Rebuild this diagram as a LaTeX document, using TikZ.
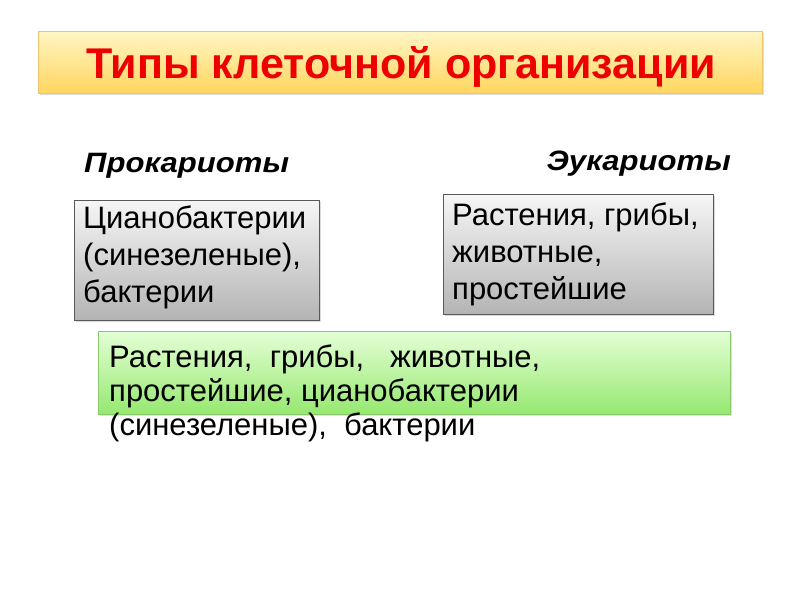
\documentclass[tikz,border=0pt]{standalone}
\usepackage{fontspec}
\setmainfont{Liberation Sans}
\newfontfamily\headfont{Liberation Sans}[FakeStretch=1.11]
\usetikzlibrary{shadows}
\definecolor{titletop}{RGB}{255,246,196}
\definecolor{titlebot}{RGB}{255,214,96}
\definecolor{titleborder}{RGB}{240,196,110}
\definecolor{graytop}{RGB}{246,246,246}
\definecolor{graybot}{RGB}{180,180,180}
\definecolor{greentop}{RGB}{228,255,214}
\definecolor{greenbot}{RGB}{150,232,112}
\definecolor{greenborder}{RGB}{140,200,110}
\definecolor{titlered}{RGB}{238,0,0}
\begin{document}
\begin{tikzpicture}[x=1pt,y=-1pt,
  titlebox/.style={draw=titleborder,line width=0.8pt,top color=titletop,bottom color=titlebot,
     drop shadow={shadow xshift=1.5pt,shadow yshift=-2pt,opacity=0.25}},
  graybox/.style={draw=black!65,line width=1pt,top color=graytop,bottom color=graybot,
     drop shadow={shadow xshift=2pt,shadow yshift=-2pt,opacity=0.3}},
  greenbox/.style={draw=greenborder,line width=0.8pt,top color=greentop,bottom color=greenbot,
     drop shadow={shadow xshift=1.5pt,shadow yshift=-2pt,opacity=0.25}},
  bodytext/.style={font=\fontsize{31}{37}\selectfont,align=left,anchor=base west,inner sep=0pt},
  headtext/.style={font=\headfont\fontsize{28}{32}\selectfont\bfseries\itshape,inner sep=0pt}
]
\useasboundingbox (0,0) rectangle (800,600);
% title
\path[titlebox] (38,31) rectangle (762,93);
\node[font=\fontsize{43}{48}\selectfont\bfseries,text=titlered,inner sep=0pt,anchor=base] (title) at (401,78) {Типы клеточной организации};
% headings
\node[headtext,anchor=base west] (pro) at (84,172) {Прокариоты};
\node[headtext,anchor=base east] (euk) at (731,170) {Эукариоты};
% gray boxes (anchor = baseline of the last line)
\path[graybox] (74,200) rectangle (319,320);
\node[bodytext] (protext) at (83,302) {Цианобактерии\\(синезеленые),\\бактерии};
\path[graybox] (443,194) rectangle (713,314);
\node[bodytext] (euktext) at (452,299) {Растения, грибы,\\животные,\\простейшие};
% green box
\path[greenbox] (98,331) rectangle (730,414);
\node[bodytext,font=\fontsize{31}{34}\selectfont] (common) at (109,435) {Растения,\ \ грибы,\ \ \ животные,\\простейшие, цианобактерии\\(синезеленые),\ \ бактерии};
\end{tikzpicture}
\end{document}
